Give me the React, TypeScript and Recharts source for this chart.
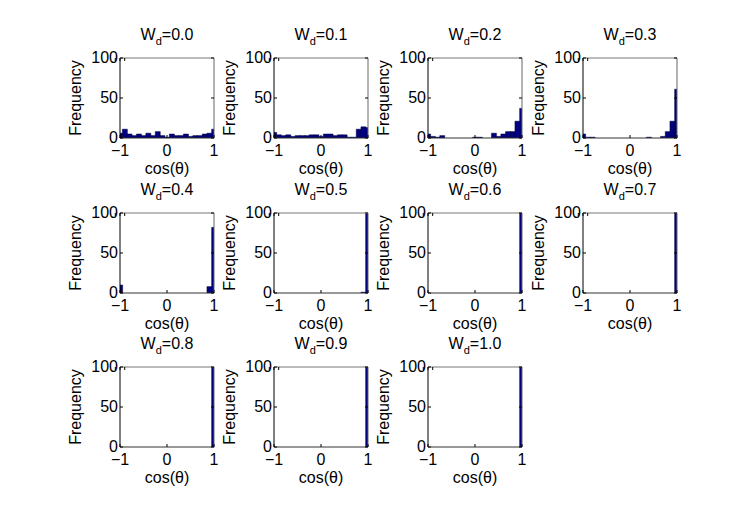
import React from 'react';
import { BarChart, Bar, XAxis, YAxis } from 'recharts';

// hist bin centres (cos θ), 21 bins of width 0.1
const BIN_CENTERS = [-1, -0.9, -0.8, -0.7, -0.6, -0.5, -0.4, -0.3, -0.2, -0.1, 0, 0.1, 0.2, 0.3, 0.4, 0.5, 0.6, 0.7, 0.8, 0.9, 1];
const X_TICKS = [-1, 0, 1];
const Y_TICKS = [0, 50, 100];
const WD_LABELS = ['0.0', '0.1', '0.2', '0.3', '0.4', '0.5', '0.6', '0.7', '0.8', '0.9', '1.0'];

// frequencies per bin, one array per W_d
const FREQ_00 = [6, 11, 5, 3, 5, 3, 6, 3, 8, 3, 1, 5, 3, 3, 5, 2, 3, 3, 5, 6, 11];
const FREQ_01 = [7, 4, 3, 4, 2, 3, 3, 3, 4, 4, 2, 5, 5, 3, 4, 4, 1, 1, 11, 14, 13];
const FREQ_02 = [5, 2, 1, 3, 0, 0, 0, 0, 0, 0, 1, 1, 0, 0, 6, 2, 5, 8, 8, 21, 37];
const FREQ_03 = [5, 1, 1, 0, 0, 0, 0, 0, 0, 0, 0, 0, 0, 0, 1, 0, 0, 2, 8, 21, 61];
const FREQ_04 = [10, 0, 0, 0, 0, 0, 0, 0, 0, 0, 0, 0, 0, 0, 0, 0, 0, 0, 0, 8, 82];
const FREQ_05 = [0, 0, 0, 0, 0, 0, 0, 0, 0, 0, 0, 0, 0, 0, 0, 0, 0, 0, 0, 1, 99];
const FREQ_06 = [0, 0, 0, 0, 0, 0, 0, 0, 0, 0, 0, 0, 0, 0, 0, 0, 0, 0, 0, 0, 100];
const FREQ_07 = [0, 0, 0, 0, 0, 0, 0, 0, 0, 0, 0, 0, 0, 0, 0, 0, 0, 0, 0, 0, 100];
const FREQ_08 = [0, 0, 0, 0, 0, 0, 0, 0, 0, 0, 0, 0, 0, 0, 0, 0, 0, 0, 0, 0, 100];
const FREQ_09 = [0, 0, 0, 0, 0, 0, 0, 0, 0, 0, 0, 0, 0, 0, 0, 0, 0, 0, 0, 0, 100];
const FREQ_10 = [0, 0, 0, 0, 0, 0, 0, 0, 0, 0, 0, 0, 0, 0, 0, 0, 0, 0, 0, 0, 100];

const PANEL_FREQS = [FREQ_00, FREQ_01, FREQ_02, FREQ_03, FREQ_04, FREQ_05, FREQ_06, FREQ_07, FREQ_08, FREQ_09, FREQ_10];

const FONT = '"Liberation Sans", Arial, Helvetica, sans-serif';
const FS = 16;
const PLOT_W = 94;
const PLOT_H = 80;
const M_LEFT = 60;
const M_TOP = 40;
const M_RIGHT = 12;
const M_BOTTOM = 45;
const COL_X = [120, 273.5, 428, 582.5];
const ROW_Y = [58, 212.5, 367];

const fmtX = (v: number) => (v < 0 ? `\u2212${Math.abs(v)}` : `${v}`);

const BottomTick = (p: any) => (
    <g>
        <line x1={p.x} x2={p.x} y1={p.y} y2={p.y - 3} stroke="#000" />
        <text x={p.x} y={p.y + 18} textAnchor="middle" fontSize={FS} fontFamily={FONT} fill="#000">
            {fmtX(p.payload.value)}
        </text>
    </g>
);

const TopTick = (p: any) => <line x1={p.x} x2={p.x} y1={p.y} y2={p.y + 3} stroke="#000" />;

const LeftTick = (p: any) => (
    <g>
        <line x1={p.x} x2={p.x + 3} y1={p.y} y2={p.y} stroke="#000" />
        <text x={p.x - 2} y={p.y + 5} textAnchor="end" fontSize={FS} fontFamily={FONT} fill="#000">
            {p.payload.value}
        </text>
    </g>
);

const RightTick = (p: any) => <line x1={p.x} x2={p.x - 3} y1={p.y} y2={p.y} stroke="#000" />;

const Panel = ({ idx }: { idx: number }) => {
    const freqs = PANEL_FREQS[idx];
    const data = BIN_CENTERS.map((c, i) => ({ c, f: freqs[i] }));
    const row = Math.floor(idx / 4);
    const col = idx % 4;
    const wd = WD_LABELS[idx];
    const cx = M_LEFT + PLOT_W / 2;
    const cy = M_TOP + PLOT_H / 2;

    return (
        <div style={{ position: 'absolute', left: COL_X[col] - M_LEFT, top: ROW_Y[row] - M_TOP }}>
            <BarChart
                width={M_LEFT + PLOT_W + M_RIGHT}
                height={M_TOP + PLOT_H + M_BOTTOM}
                data={data}
                margin={{ top: 0, right: 0, bottom: 0, left: 0 }}
                barCategoryGap={0}
                barGap={0}
                style={{ overflow: 'visible' }}
            >
                <XAxis
                    dataKey="c"
                    type="number"
                    domain={[-1, 1]}
                    ticks={X_TICKS}
                    allowDataOverflow
                    height={M_BOTTOM}
                    tickSize={0}
                    tickMargin={0}
                    tickLine={false}
                    axisLine={{ stroke: '#333' }}
                    tick={BottomTick}
                    interval={0}
                    label={() => (
                        <text x={cx} y={M_TOP + PLOT_H + 36} textAnchor="middle" fontSize={FS} fontFamily={FONT} fill="#000">
                            cos(θ)
                        </text>
                    )}
                />
                <XAxis
                    xAxisId="top"
                    orientation="top"
                    type="number"
                    domain={[-1, 1]}
                    ticks={X_TICKS}
                    allowDataOverflow
                    height={M_TOP}
                    tickSize={0}
                    tickMargin={0}
                    tickLine={false}
                    axisLine={{ stroke: '#777' }}
                    tick={TopTick}
                    interval={0}
                    label={() => (
                        <text x={cx} y={M_TOP - 18} textAnchor="middle" fontSize={FS} fontFamily={FONT} fill="#000">
                            <tspan>W</tspan>
                            <tspan dy={5} fontSize={11}>d</tspan>
                            <tspan dy={-5}>={wd}</tspan>
                        </text>
                    )}
                />
                <YAxis
                    type="number"
                    domain={[0, 100]}
                    ticks={Y_TICKS}
                    allowDataOverflow
                    width={M_LEFT}
                    tickSize={0}
                    tickMargin={0}
                    tickLine={false}
                    axisLine={{ stroke: '#000' }}
                    tick={LeftTick}
                    interval={0}
                    label={() => (
                        <text
                            x={21}
                            y={cy}
                            textAnchor="middle"
                            fontSize={FS}
                            fontFamily={FONT}
                            fill="#000"
                            transform={`rotate(-90, 21, ${cy})`}
                        >
                            Frequency
                        </text>
                    )}
                />
                <YAxis
                    yAxisId="right"
                    orientation="right"
                    type="number"
                    domain={[0, 100]}
                    ticks={Y_TICKS}
                    allowDataOverflow
                    width={M_RIGHT}
                    tickSize={0}
                    tickMargin={0}
                    tickLine={false}
                    axisLine={{ stroke: '#666' }}
                    tick={RightTick}
                    interval={0}
                />
                <Bar
                    dataKey="f"
                    fill="#000080"
                    stroke="#00003a"
                    strokeWidth={0.5}
                    isAnimationActive={false}
                />
            </BarChart>
        </div>
    );
};

export default function App() {
    return (
        <div
            style={{
                position: 'absolute',
                left: 0,
                top: 0,
                width: 747,
                height: 516,
                background: '#fff',
                fontFamily: FONT,
            }}
        >
            {PANEL_FREQS.map((_, i) => (
                <Panel key={i} idx={i} />
            ))}
        </div>
    );
}
